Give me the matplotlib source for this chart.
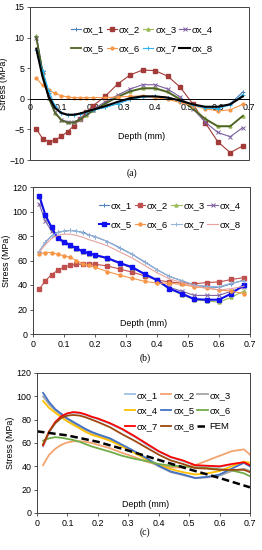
import matplotlib
matplotlib.use('Agg')
import matplotlib.pyplot as plt
from matplotlib.patches import Rectangle

plt.rcParams['font.family'] = ['Liberation Sans', 'DejaVu Sans']

# depth points shared by panels (a) and (b)
x_ab = [0.02, 0.04, 0.06, 0.08, 0.10, 0.12, 0.14, 0.16, 0.18, 0.20,
        0.24, 0.28, 0.32, 0.36, 0.40, 0.44, 0.48, 0.52, 0.56, 0.60, 0.64, 0.68]

# panel (a)
a_sx1 = [10.3, 4.6, 0.9, -1.4, -2.4, -2.7, -2.7, -2.5, -2.2, -1.9, -1.4, -0.8, -0.1, 0.3, 0.4, 0.2, -0.3, -1.0, -1.5, -1.6, -0.8, 1.1]
a_sx2 = [-4.9, -6.5, -7.0, -6.8, -6.1, -5.4, -4.4, -3.3, -2.2, -1.2, 0.4, 2.4, 3.9, 4.7, 4.6, 3.7, 1.9, -0.8, -3.9, -7.0, -8.8, -7.7]
a_sx3 = [10.2, 4.4, 0.2, -2.3, -3.4, -3.8, -3.8, -3.3, -2.6, -1.9, -0.7, 0.4, 1.3, 1.8, 1.8, 1.2, 0.0, -1.5, -3.2, -4.4, -4.4, -2.8]
a_sx4 = [10.0, 4.3, 0.2, -2.2, -3.4, -3.8, -3.8, -3.3, -2.5, -1.8, -0.5, 0.6, 1.6, 2.3, 2.3, 1.6, 0.3, -1.6, -3.8, -5.5, -6.2, -4.7]
a_sx5 = [10.1, 4.4, 0.1, -2.3, -3.5, -3.9, -3.9, -3.4, -2.7, -2.0, -0.8, 0.3, 1.2, 1.7, 1.7, 1.1, -0.1, -1.6, -3.3, -4.5, -4.5, -2.8]
a_sx6 = [3.4, 2.2, 1.4, 0.9, 0.5, 0.3, 0.2, 0.2, 0.2, 0.2, 0.2, 0.3, 0.4, 0.5, 0.2, -0.1, -0.6, -1.1, -1.6, -2.0, -1.8, -0.9]
a_sx7 = [8.0, 4.6, 1.3, -1.2, -2.3, -2.7, -2.7, -2.5, -2.2, -1.9, -1.4, -0.8, -0.1, 0.3, 0.4, 0.2, -0.3, -1.0, -1.5, -1.6, -1.0, 0.7]
a_sx8 = [8.2, 3.6, 0.3, -1.5, -2.3, -2.6, -2.6, -2.4, -2.1, -1.8, -1.2, -0.5, 0.1, 0.4, 0.4, 0.2, -0.3, -0.9, -1.3, -1.3, -0.9, 0.4]

# panel (b)
b_sx1 = [67, 75, 80, 83, 84, 84.5, 84, 83, 81, 79.5, 75.5, 70.5, 65, 59, 52.5, 47, 43.5, 40, 38.5, 38, 41, 44]
b_sx2 = [36.5, 43.5, 48.5, 52, 54.5, 56, 57, 57, 57, 57, 55.5, 53, 50.5, 47.5, 44, 42.5, 41.5, 41, 42, 42.5, 44.5, 46]
b_sx3 = [112, 96, 86, 78, 75, 72, 69.5, 67, 65.5, 64, 61.5, 57.5, 54, 48.5, 43.5, 37, 32, 28, 27, 26, 30, 35]
b_sx4 = [106, 92, 84, 78, 74, 72, 69.5, 67, 65.5, 64.5, 61.5, 57.5, 54, 49, 44, 38, 35, 31.5, 31.5, 31.5, 35, 38]
b_sx5 = [113, 97, 87, 78, 75.5, 72.5, 70, 67.5, 66, 64.5, 62, 58, 54.5, 49, 44, 37, 33, 28.5, 28, 28, 33, 40]
b_sx6 = [65.5, 66.5, 66.5, 65, 64, 62.5, 60, 57.5, 56, 54.5, 51, 48, 45.5, 43, 41.5, 41.5, 40.5, 38.5, 37.5, 36, 35, 33]
b_sx7 = [67.5, 75, 80, 83, 84, 84.5, 84, 82.5, 81, 79.5, 75.5, 70, 65, 58.5, 52.5, 47, 43.5, 40, 39, 38.5, 41.5, 43.5]
b_sx8 = [67, 73, 78, 80.5, 81.5, 81.5, 80.5, 79, 77, 75.5, 72, 67, 62, 56, 50, 45, 42, 39, 37.5, 36, 37, 39]

# panel (c)
x_c = x_ab + [0.70]
c_sx1 = [57, 69, 77, 82, 85, 86, 85.5, 84, 82, 80.5, 76.5, 71.5, 65.5, 58.5, 52.5, 47.5, 44.5, 40.5, 40, 39.5, 41.5, 43, 40]
c_sx2 = [41, 50, 55, 58.5, 60.5, 61.5, 61.5, 61, 60, 58.5, 55.5, 51.5, 48, 44, 41, 39, 39, 41, 45, 49, 53, 54.5, 50]
c_sx3 = [100, 93, 88, 84, 80.5, 77, 74, 71, 68.5, 66.5, 63, 57.5, 52, 46, 40, 35, 32.5, 30, 30.5, 32, 36, 38, 36]
c_sx4 = [96, 90, 86, 82, 78.5, 75.5, 72.5, 69.5, 67, 65.5, 62, 57, 51.5, 46, 41, 37.5, 35, 33, 34, 36, 40, 44, 43]
c_sx5 = [103, 95, 89, 85, 81, 78, 75, 72, 69.5, 67.5, 64, 58.5, 53, 47, 40.5, 35.5, 33, 30, 31, 33, 38, 43, 40]
c_sx6 = [62, 64, 65, 64.5, 63.5, 62.5, 61, 59, 57, 55.5, 52.5, 49, 46.5, 44.5, 42, 40.5, 40, 39, 38.5, 37.5, 36.5, 34, 31.5]
c_sx7 = [58, 70, 78, 83, 85.5, 86.5, 86, 84.5, 82.5, 81, 77, 72, 66, 59.5, 53, 48, 45, 41, 40.5, 40, 42, 43.5, 41]
c_sx8 = [59, 70, 77, 81.5, 83.5, 84, 83.5, 82, 80, 78, 73.5, 67.5, 62, 56, 50, 45, 42, 38.5, 38, 37, 37, 37, 35]
x_fem = [0.0, 0.1, 0.2, 0.3, 0.4, 0.5, 0.6, 0.7]
fem = [70, 66.5, 61, 53.5, 45.5, 37.5, 30, 22]

labels = ['σx_1', 'σx_2', 'σx_3', 'σx_4', 'σx_5', 'σx_6', 'σx_7', 'σx_8']

fig = plt.figure(figsize=(2.62, 5.5), dpi=100)
fs = 6.4
lfs = 6.8


def style_axis(ax, ylim, yticks):
    ax.set_xlim(0, 0.7)
    ax.set_ylim(*ylim)
    ax.set_yticks(yticks)
    ax.set_xticks([0, 0.1, 0.2, 0.3, 0.4, 0.5, 0.6, 0.7])
    ax.set_xticklabels(['0', '0.1', '0.2', '0.3', '0.4', '0.5', '0.6', '0.7'])
    ax.tick_params(labelsize=fs, length=2.5, width=0.6, pad=1.5, color='#404040')
    for s in ax.spines.values():
        s.set_linewidth(0.7)
        s.set_color('#404040')
    ax.set_ylabel('Stress (MPa)', fontsize=fs, labelpad=1)


def row_legend(ax, ncol, anchor, spacing):
    # legend filled row by row, like the original
    h, l = ax.get_legend_handles_labels()
    nrow = -(-len(h) // ncol)
    order = [r * ncol + c for c in range(ncol) for r in range(nrow) if r * ncol + c < len(h)]
    ax.legend([h[i] for i in order], [l[i] for i in order], loc='upper center',
              bbox_to_anchor=anchor, ncol=ncol, frameon=False, fontsize=lfs,
              handlelength=1.1, handletextpad=0.2, columnspacing=0.3,
              labelspacing=spacing, borderaxespad=0)


# ---------- (a) ----------
ax1 = fig.add_axes([30/262, 1-160/550, 219/262, 153/550])
ax1.plot(x_ab, a_sx1, color='#4A7EBB', lw=0.8, marker='+', ms=3, mew=0.7, label=labels[0])
ax1.plot(x_ab, a_sx2, color='#A33B38', lw=0.8, marker='s', ms=2.2, label=labels[1])
ax1.plot(x_ab, a_sx3, color='#98B954', lw=0.8, marker='^', ms=2.2, label=labels[2])
ax1.plot(x_ab, a_sx4, color='#7D60A0', lw=0.8, marker='x', ms=2.5, mew=0.7, label=labels[3])
ax1.plot(x_ab, a_sx5, color='#4F6228', lw=1.3, label=labels[4])
ax1.plot(x_ab, a_sx6, color='#F79646', lw=0.8, marker='o', ms=2, label=labels[5])
ax1.plot(x_ab, a_sx7, color='#2BB5F0', lw=0.8, marker='+', ms=3, mew=0.7, label=labels[6])
ax1.plot(x_ab, a_sx8, color='black', lw=1.5, label=labels[7])
style_axis(ax1, (-10, 15), [-10, -5, 0, 5, 10, 15])
ax1.spines['bottom'].set_position(('data', 0))
ax1.spines['bottom'].set_color('black')
ax1.spines['top'].set_visible(False)
ax1.spines['right'].set_visible(False)
ax1.add_patch(Rectangle((0, 0), 1, 1, transform=ax1.transAxes, fill=False,
                        lw=0.7, edgecolor='#404040', clip_on=False))
ax1.tick_params(axis='x', length=0, pad=3)
ax1.set_xlabel('Depth (mm)', fontsize=fs)
ax1.xaxis.set_label_coords(0.51, 0.18)
row_legend(ax1, 4, (0.51, 0.905), 1.05)
fig.text(132/262, 1-173/550, '(a)', ha='center', va='center',
         family='Liberation Serif', fontsize=7)

# ---------- (b) ----------
ax2 = fig.add_axes([33/262, 1-334/550, 217/262, 147/550])
ax2.plot(x_ab, b_sx1, color='#4F81BD', lw=0.8, marker='+', ms=3, mew=0.7, label=labels[0])
ax2.plot(x_ab, b_sx2, color='#C0504D', lw=0.8, marker='s', ms=2.2, label=labels[1])
ax2.plot(x_ab, b_sx3, color='#9BBB59', lw=0.8, marker='^', ms=2.2, label=labels[2])
ax2.plot(x_ab, b_sx4, color='#8064A2', lw=0.8, marker='x', ms=2.5, mew=0.7, label=labels[3])
ax2.plot(x_ab, b_sx5, color='#1010F0', lw=1.5, marker='s', ms=2.4, label=labels[4])
ax2.plot(x_ab, b_sx6, color='#F79646', lw=0.8, marker='o', ms=2.2, label=labels[5])
ax2.plot(x_ab, b_sx7, color='#95B3D7', lw=0.8, marker='+', ms=3, mew=0.7, label=labels[6])
ax2.plot(x_ab, b_sx8, color='#E6A09E', lw=0.8, label=labels[7])
style_axis(ax2, (0, 120), [0, 20, 40, 60, 80, 100, 120])
ax2.set_xlabel('Depth (mm)', fontsize=fs)
ax2.xaxis.set_label_coords(0.51, 0.1)
row_legend(ax2, 4, (0.63, 0.93), 1.05)
fig.text(145/262, 1-358/550, '(b)', ha='center', va='center',
         family='Liberation Serif', fontsize=7)

# ---------- (c) ----------
ax3 = fig.add_axes([37/262, 1-513/550, 213/262, 140/550])
ax3.plot(x_c, c_sx1, color='#9DC3E6', lw=1.3, label=labels[0])
ax3.plot(x_c, c_sx2, color='#F4A46E', lw=1.3, label=labels[1])
ax3.plot(x_c, c_sx3, color='#A5A5A5', lw=1.3, label=labels[2])
ax3.plot(x_c, c_sx4, color='#FFC000', lw=1.3, label=labels[3])
ax3.plot(x_c, c_sx5, color='#4472C4', lw=1.3, label=labels[4])
ax3.plot(x_c, c_sx6, color='#70AD47', lw=1.3, label=labels[5])
ax3.plot(x_c, c_sx7, color='#FF0000', lw=1.3, label=labels[6])
ax3.plot(x_c, c_sx8, color='#9E480E', lw=1.3, label=labels[7])
ax3.plot(x_fem, fem, color='black', lw=1.8, ls=(0, (3, 1.5)), label='FEM')
style_axis(ax3, (0, 120), [0, 20, 40, 60, 80, 100, 120])
ax3.set_xlabel('Depth (mm)', fontsize=fs)
ax3.xaxis.set_label_coords(0.51, 0.09)
row_legend(ax3, 3, (0.66, 0.9), 0.7)
fig.text(145/262, 1-532/550, '(c)', ha='center', va='center',
         family='Liberation Serif', fontsize=7)

fig.savefig('out.png', dpi=100)
